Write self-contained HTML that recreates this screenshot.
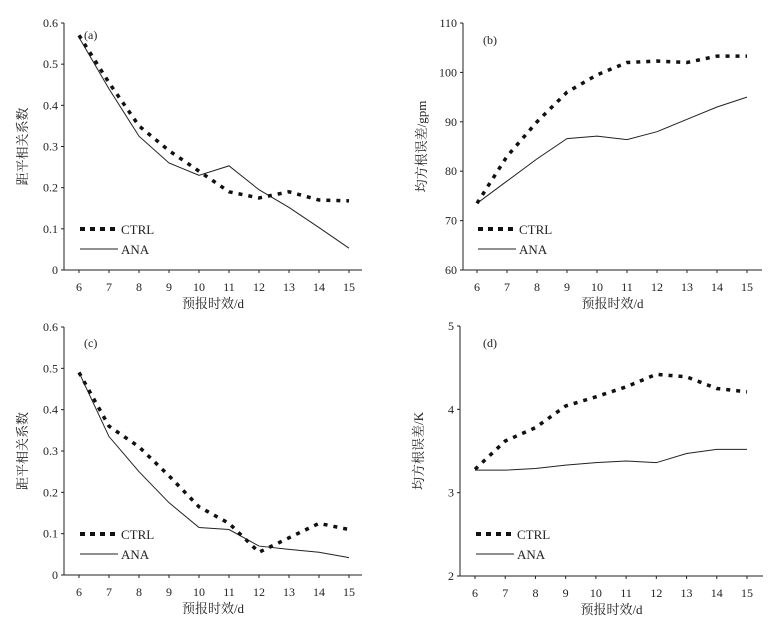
<!DOCTYPE html>
<html><head><meta charset="utf-8"><style>
body{margin:0;background:#fff}
svg text{font-family:"Liberation Serif","Noto Serif CJK SC",serif;fill:#222}
</style></head><body>
<svg id="s" width="783" height="627" xmlns="http://www.w3.org/2000/svg"></svg>
<script>
const days=[6,7,8,9,10,11,12,13,14,15];
const aCtrl=[0.57,0.455,0.35,0.29,0.24,0.19,0.175,0.19,0.17,0.168];
const aAna=[0.565,0.44,0.325,0.26,0.23,0.253,0.195,0.152,0.103,0.053];
const bCtrl=[73.5,83,90,96,99.5,102,102.3,102,103.3,103.3];
const bAna=[73.5,78,82.5,86.6,87.1,86.4,88,90.5,93,95];
const cCtrl=[0.49,0.36,0.31,0.24,0.165,0.125,0.055,0.09,0.125,0.11];
const cAna=[0.49,0.335,0.25,0.175,0.115,0.11,0.07,0.062,0.055,0.042];
const dCtrl=[3.28,3.62,3.78,4.04,4.15,4.27,4.42,4.39,4.25,4.21];
const dAna=[3.27,3.27,3.29,3.33,3.36,3.38,3.36,3.47,3.52,3.52];
const aTicks=["0","0.1","0.2","0.3","0.4","0.5","0.6"];
const bTicks=["60","70","80","90","100","110"];
const dTicks=["2","3","4","5"];
const S=document.getElementById('s');const NS="http://www.w3.org/2000/svg";
function mk(t,a,txt){const e=document.createElementNS(NS,t);for(const k in a)e.setAttribute(k,a[k]);if(txt!=null)e.textContent=txt;S.appendChild(e);return e;}
function panel(p){
 const {ax,top,bot,x6,x15,xend,ymin,ymax,ticks,ylab,lab,ctrl,ana,legY,id}=p;
 const X=d=>x6+(d-6)*(x15-x6)/9;
 const Y=v=>bot-(v-ymin)/(ymax-ymin)*(bot-top);
 let e=mk('line',{x1:ax,y1:top,x2:ax,y2:bot,stroke:'#222','stroke-width':1});
 
 e=mk('line',{x1:ax,y1:bot,x2:xend,y2:bot,stroke:'#222','stroke-width':1});
 
 ticks.forEach((t,i)=>{const y=Y(parseFloat(t));
  mk('line',{x1:ax-3,y1:y,x2:ax,y2:y,stroke:'#222'});
  e=mk('text',{x:ax-6,y:y+4,'text-anchor':'end','font-size':12},t);
  });
 days.forEach(d=>{mk('line',{x1:X(d),y1:bot,x2:X(d),y2:bot+3,stroke:'#222'});
  e=mk('text',{x:X(d),y:bot+21,'text-anchor':'middle','font-size':12},String(d));
  });
 e=mk('text',{x:(ax+xend)/2,y:bot+38,'text-anchor':'middle','font-size':13},'预报时效/d');
 
 const yc=(top+bot)/2;
 e=mk('text',{x:ax-37,y:yc,'text-anchor':'middle','font-size':13,transform:`rotate(-90 ${ax-37} ${yc})`},ylab);
 
 e=mk('text',{x:lab[0],y:lab[1],'font-size':12},lab[2]);
 
 const pts=a=>a.map((v,i)=>X(days[i])+','+Y(v)).join(' ');
 e=mk('polyline',{points:pts(ana),fill:'none',stroke:'#222','stroke-width':1});
 
 e=mk('polyline',{points:pts(ctrl),fill:'none',stroke:'#111','stroke-width':3.5,'stroke-dasharray':'4 6'});
 
 const lx=x6+1;
 e=mk('line',{x1:lx,y1:legY,x2:lx+38,y2:legY,stroke:'#111','stroke-width':4,'stroke-dasharray':'5 5'});
 
 e=mk('text',{x:lx+41,y:legY+5,'font-size':13},'CTRL');
 
 e=mk('line',{x1:lx,y1:legY+20,x2:lx+38,y2:legY+20,stroke:'#222','stroke-width':1});
 
 e=mk('text',{x:lx+41,y:legY+25,'font-size':13},'ANA');
 
}
panel({id:'panel-a',ax:64,top:23,bot:270,x6:79,x15:349,xend:362,ymin:0,ymax:0.6,ticks:aTicks,ylab:'距平相关系数',lab:[84,39,'(a)'],ctrl:aCtrl,ana:aAna,legY:229});
panel({id:'panel-b',ax:463,top:23,bot:270,x6:477,x15:747,xend:762,ymin:60,ymax:110,ticks:bTicks,ylab:'均方根误差/gpm',lab:[483,44,'(b)'],ctrl:bCtrl,ana:bAna,legY:229});
panel({id:'panel-c',ax:64,top:327,bot:575,x6:79,x15:349,xend:362,ymin:0,ymax:0.6,ticks:aTicks,ylab:'距平相关系数',lab:[84,347,'(c)'],ctrl:cCtrl,ana:cAna,legY:534});
panel({id:'panel-d',ax:460,top:326,bot:576,x6:475,x15:747,xend:763,ymin:2,ymax:5,ticks:dTicks,ylab:'均方根误差/K',lab:[483,347,'(d)'],ctrl:dCtrl,ana:dAna,legY:534});
</script>
</body></html>
